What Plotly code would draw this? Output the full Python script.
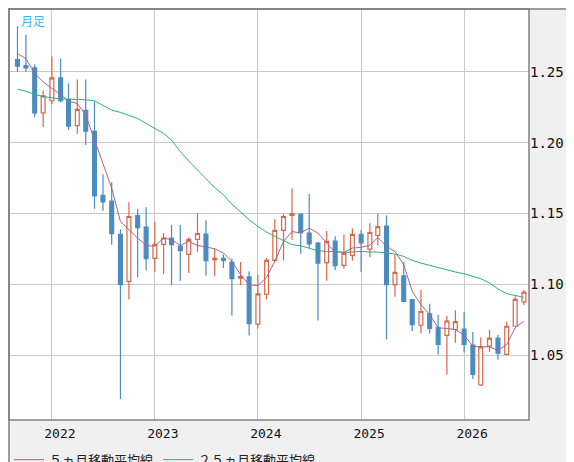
import plotly.graph_objects as go
import pandas as pd

months = pd.date_range("2021-09-01", periods=60, freq="MS")

opens = [1.2587, 1.2545, 1.2528, 1.2211, 1.2296, 1.2458, 1.2305, 1.2120, 1.2228, 1.2080,
         1.1629, 1.1587, 1.1352, 1.1021, 1.1486, 1.1404, 1.1183, 1.1282, 1.1327, 1.1270,
         1.1211, 1.1317, 1.1355, 1.1174, 1.1183, 1.1155, 1.1044, 1.1052, 1.0719, 1.0930,
         1.1169, 1.1381, 1.1486, 1.1495, 1.1362, 1.1291, 1.1153, 1.1305, 1.1134, 1.1204,
         1.1352, 1.1249, 1.1345, 1.1411, 1.0998, 1.1059, 1.0892, 1.0711, 1.0791, 1.0697,
         1.0640, 1.0681, 1.0683, 1.0570, 1.0289, 1.0563, 1.0620, 1.0505, 1.0704, 1.0876]
highs = [1.2822, 1.2763, 1.2552, 1.2369, 1.2608, 1.2594, 1.2418, 1.2446, 1.2446, 1.2293,
         1.1777, 1.1721, 1.1387, 1.1580, 1.1531, 1.1545, 1.1441, 1.1362, 1.1418, 1.1418,
         1.1331, 1.1502, 1.1453, 1.1251, 1.1211, 1.1181, 1.1157, 1.1092, 1.1068, 1.1186,
         1.1460, 1.1495, 1.1678, 1.1502, 1.1638, 1.1298, 1.1376, 1.1340, 1.1352, 1.1394,
         1.1385, 1.1432, 1.1500, 1.1486, 1.1209, 1.1160, 1.0897, 1.0960, 1.0862, 1.0786,
         1.0778, 1.0817, 1.0805, 1.0664, 1.0627, 1.0678, 1.0643, 1.0737, 1.0915, 1.0960]
lows = [1.2500, 1.2500, 1.2180, 1.2110, 1.2272, 1.2284, 1.2089, 1.2061, 1.1984, 1.1533,
        1.1519, 1.1280, 1.0188, 1.0892, 1.1050, 1.1097, 1.1089, 1.1073, 1.0993, 1.1026,
        1.1080, 1.1230, 1.1061, 1.1057, 1.1115, 1.0780, 1.0993, 1.0639, 1.0688, 1.0892,
        1.1155, 1.1169, 1.1315, 1.1216, 1.1256, 1.0744, 1.1026, 1.1101, 1.1110, 1.1167,
        1.1087, 1.1192, 1.1275, 1.0610, 1.0913, 1.0876, 1.0671, 1.0653, 1.0653, 1.0505,
        1.0364, 1.0587, 1.0519, 1.0331, 1.0282, 1.0521, 1.0470, 1.0505, 1.0704, 1.0852]
closes = [1.2540, 1.2528, 1.2211, 1.2331, 1.2458, 1.2296, 1.2117, 1.2235, 1.2082, 1.1625,
          1.1582, 1.1357, 1.0998, 1.1479, 1.1400, 1.1181, 1.1282, 1.1327, 1.1280, 1.1237,
          1.1317, 1.1359, 1.1167, 1.1183, 1.1169, 1.1040, 1.1054, 1.0723, 1.0932, 1.1169,
          1.1381, 1.1479, 1.1500, 1.1364, 1.1286, 1.1150, 1.1303, 1.1131, 1.1218, 1.1352,
          1.1293, 1.1366, 1.1408, 1.0998, 1.1085, 1.0880, 1.0716, 1.0808, 1.0688, 1.0575,
          1.0741, 1.0737, 1.0575, 1.0364, 1.0559, 1.0620, 1.0514, 1.0704, 1.0894, 1.0944]

ma5 = [1.2629, 1.2594, 1.2488, 1.2430, 1.2383, 1.2340, 1.2293, 1.2277, 1.2195, 1.2019,
       1.1843, 1.1679, 1.1444, 1.1385, 1.1327, 1.1275, 1.1268, 1.1327, 1.1315, 1.1275,
       1.1303, 1.1275, 1.1261, 1.1251, 1.1221, 1.1162, 1.1068, 1.0998, 1.0991, 1.1050,
       1.1162, 1.1303, 1.1373, 1.1362, 1.1397, 1.1362, 1.1291, 1.1228, 1.1225, 1.1256,
       1.1261, 1.1275, 1.1331, 1.1268, 1.1232, 1.1139, 1.0951, 1.0857, 1.0786, 1.0693,
       1.0688, 1.0681, 1.0641, 1.0564, 1.0559, 1.0559, 1.0533, 1.0575, 1.0693, 1.0740]
ma25 = [1.2378, 1.2364, 1.2340, 1.2326, 1.2317, 1.2308, 1.2308, 1.2308, 1.2303, 1.2296,
        1.2265, 1.2230, 1.2214, 1.2195, 1.2171, 1.2136, 1.2101, 1.2066, 1.2019, 1.1937,
        1.1871, 1.1808, 1.1749, 1.1683, 1.1632, 1.1566, 1.1510, 1.1456, 1.1409, 1.1369,
        1.1338, 1.1308, 1.1280, 1.1272, 1.1256, 1.1237, 1.1232, 1.1232, 1.1225, 1.1228,
        1.1232, 1.1228, 1.1228, 1.1221, 1.1214, 1.1197, 1.1169, 1.1150, 1.1134, 1.1115,
        1.1099, 1.1087, 1.1075, 1.1056, 1.1040, 1.1009, 1.0967, 1.0934, 1.0920, 1.0908]

up_color = "#d9664a"
down_color = "#4a8cc0"

fig = go.Figure()
fig.add_trace(go.Candlestick(
    x=months, open=opens, high=highs, low=lows, close=closes,
    increasing=dict(line=dict(color=up_color, width=1.2), fillcolor="white"),
    decreasing=dict(line=dict(color=down_color, width=1.2), fillcolor=down_color),
    whiskerwidth=0, showlegend=False, hoverinfo="skip"))
fig.add_trace(go.Scatter(x=months, y=ma5, mode="lines", name="５ヵ月移動平均線",
                         line=dict(color="#b0608a", width=1)))
fig.add_trace(go.Scatter(x=months, y=ma25, mode="lines", name="２５ヵ月移動平均線",
                         line=dict(color="#2cb07a", width=1)))

fig.update_layout(
    width=574, height=462,
    margin=dict(l=1, r=53, t=1, b=50, autoexpand=False),
    paper_bgcolor="#f0f0f0", plot_bgcolor="white",
    font=dict(family="Noto Sans CJK JP", size=13, color="#222"),
    legend=dict(orientation="h", x=0.0, y=-0.06, xanchor="left", yanchor="top",
                bgcolor="rgba(0,0,0,0)", font=dict(size=13), itemwidth=30),
    annotations=[dict(text="月足", x=0.02, y=0.997, xref="paper", yref="paper",
                      xanchor="left", yanchor="top", showarrow=False,
                      font=dict(color="#3ab8ee", size=12))],
    shapes=[dict(type="rect", xref="paper", yref="paper", x0=0, x1=1.0, y0=0, y1=1.0,
                 line=dict(color="#808080", width=1.5)),
            dict(type="rect", xref="paper", yref="paper", x0=0, x1=1.1, y0=-0.12, y1=1.0,
                 line=dict(color="#808080", width=1.5))],
)
fig.update_xaxes(
    type="date", range=["2021-08-02", "2026-08-19"], automargin=False,
    tickvals=pd.date_range("2022-01-01", periods=5, freq="YS"), tickformat="%Y",
    ticklabelshift=8, ticklabelstandoff=4, showgrid=True, gridcolor="#c8c8c8", gridwidth=1,
    rangeslider_visible=False, zeroline=False, ticks="",
    tickfont=dict(family="DejaVu Sans Mono", size=13, color="#111"))
fig.update_yaxes(
    side="right", range=[1.0042, 1.2944], tickvals=[1.05, 1.10, 1.15, 1.20, 1.25],
    tickformat=".2f", showgrid=True, gridcolor="#c8c8c8", zeroline=False, ticks="",
    automargin=False,
    tickfont=dict(family="DejaVu Sans Mono", size=14, color="#111"))

fig.write_html("out.html")
